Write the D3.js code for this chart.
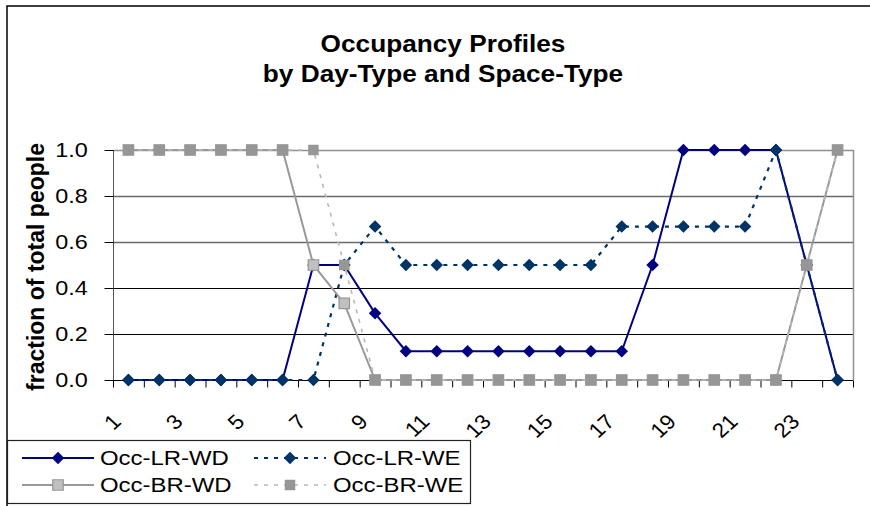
<!DOCTYPE html>
<html>
<head>
<meta charset="utf-8">
<script src="https://cdn.jsdelivr.net/npm/d3@7"></script>
<style>
  body { margin: 0; background: #fff; }
  svg { display: block; font-family: "Liberation Sans", Arial, sans-serif; }
</style>
</head>
<body>
<svg id="chart" width="870" height="506"></svg>
<script>
// hours of the day
var hours = [1, 2, 3, 4, 5, 6, 7, 8, 9, 10, 11, 12, 13, 14, 15, 16, 17, 18, 19, 20, 21, 22, 23, 24];
var hourLabels = ['1', '3', '5', '7', '9', '11', '13', '15', '17', '19', '21', '23'];
var yTicks = [0, 0.2, 0.4, 0.6, 0.8, 1.0];

// series values
var occLRWD = [0, 0, 0, 0, 0, 0, 0.5, 0.5, 0.29, 0.125, 0.125, 0.125, 0.125, 0.125, 0.125, 0.125, 0.125, 0.5, 1, 1, 1, 1, 0.5, 0];
var occLRWE = [0, 0, 0, 0, 0, 0, 0, 0.5, 0.667, 0.5, 0.5, 0.5, 0.5, 0.5, 0.5, 0.5, 0.667, 0.667, 0.667, 0.667, 0.667, 1, 0.5, 0];
var occBRWD = [1, 1, 1, 1, 1, 1, 0.5, 0.333, 0, 0, 0, 0, 0, 0, 0, 0, 0, 0, 0, 0, 0, 0, 0.5, 1];
var occBRWE = [1, 1, 1, 1, 1, 1, 1, 0.5, 0, 0, 0, 0, 0, 0, 0, 0, 0, 0, 0, 0, 0, 0, 0.5, 1];

var series = [
  { name: 'Occ-LR-WD', values: occLRWD, line: '#000080', width: 2, dash: null, shape: 'diamond', fill: '#000080', stroke: 'none' },
  { name: 'Occ-LR-WE', values: occLRWE, line: '#003366', width: 2.2, dash: '4,6', shape: 'diamond', fill: '#003366', stroke: 'none' },
  { name: 'Occ-BR-WD', values: occBRWD, line: '#999999', width: 2, dash: null, shape: 'square', fill: '#c0c0c0', stroke: '#969696' },
  { name: 'Occ-BR-WE', values: occBRWE, line: '#b8b8b8', width: 1.6, dash: '4,6', shape: 'square', fill: '#969696', stroke: 'none' }
];

(function() {
  var svg = d3.select('#chart');
  var plotLeft = 113, plotRight = 853, plotTop = 150, plotBottom = 380;

  var x = d3.scaleBand().domain(hours).range([plotLeft, plotRight]);
  var xEdge = d3.scaleLinear().domain([0, 24]).range([plotLeft, plotRight]);
  var y = d3.scaleLinear().domain([0, 1]).range([plotBottom, plotTop]);
  var cx = function(h) { return x(h) + x.bandwidth() / 2; };

  // outer chart border
  svg.append('rect')
    .attr('x', 7).attr('y', 6).attr('width', 900).attr('height', 560)
    .attr('fill', 'none').attr('stroke', '#000').attr('stroke-width', 1.5);

  // title
  var title = svg.append('g').attr('font-weight', 'bold').attr('font-size', 23);
  [['Occupancy Profiles', 52], ['by Day-Type and Space-Type', 82]].forEach(function(t) {
    title.append('text')
      .attr('transform', 'translate(443,' + t[1] + ') scale(1.14,1)')
      .attr('text-anchor', 'middle')
      .text(t[0]);
  });

  // gridlines
  svg.append('g').selectAll('line')
    .data(yTicks.filter(function(d) { return d > 0 && d < 1; }))
    .join('line')
    .attr('x1', plotLeft).attr('x2', plotRight)
    .attr('y1', function(d) { return Math.round(y(d)) + 0.5; })
    .attr('y2', function(d) { return Math.round(y(d)) + 0.5; })
    .attr('stroke', function(d) { return d > 0.5 ? '#6a6a6a' : '#000'; })
    .attr('stroke-width', function(d) { return d > 0.5 ? 1.6 : 1; });

  // plot area border (top and right)
  svg.append('path')
    .attr('d', 'M' + plotLeft + ',' + (plotTop + 0.5) + 'H' + (plotRight + 0.5) + 'V' + plotBottom)
    .attr('fill', 'none').attr('stroke', '#909090').attr('stroke-width', 1.5);

  // y axis
  var yAxis = svg.append('g')
    .attr('transform', 'translate(' + (plotLeft + 0.5) + ',0)')
    .call(d3.axisLeft(y).tickValues(yTicks).tickFormat(d3.format('.1f')).tickSize(9).tickPadding(10));
  yAxis.select('.domain').attr('stroke', '#555').attr('d', 'M0,' + plotTop + 'V' + (plotBottom + 7));
  yAxis.selectAll('.tick line').attr('stroke', '#000');
  yAxis.selectAll('.tick text')
    .attr('font-size', 19.5).attr('font-family', '"Liberation Sans", Arial, sans-serif')
    .attr('fill', '#000')
    .attr('transform', 'translate(-3,0) scale(1.2,1)');

  // x axis with ticks at band edges
  var xAxis = svg.append('g')
    .attr('transform', 'translate(0,' + (plotBottom + 0.5) + ')')
    .call(d3.axisBottom(xEdge).tickValues(d3.range(0, 25)).tickFormat('').tickSize(7));
  xAxis.select('.domain').attr('stroke', '#000').attr('d', 'M' + plotLeft + ',0H' + plotRight);
  xAxis.selectAll('.tick line').attr('stroke', '#000');

  svg.append('g').selectAll('text')
    .data(hourLabels)
    .join('text')
    .attr('transform', function(d) { return 'translate(' + (cx(+d) - 6) + ',423) scale(1.1,1) rotate(-45)'; })
    .attr('text-anchor', 'end')
    .attr('font-size', 20.5)
    .text(function(d) { return d; });

  // y axis title
  svg.append('text')
    .attr('transform', 'translate(44,267) rotate(-90)')
    .attr('text-anchor', 'middle')
    .attr('font-size', 23).attr('font-weight', 'bold')
    .text('fraction of total people');

  // series
  var diamond = d3.symbol(d3.symbolSquare, 78);
  var square = d3.symbol(d3.symbolSquare, 110);

  function marker(sel, s) {
    sel.attr('d', s.shape === 'diamond' ? diamond() : square())
      .attr('fill', s.fill)
      .attr('stroke', s.stroke)
      .attr('stroke-width', 1.2);
  }

  var line = d3.line()
    .x(function(d) { return cx(d.h); })
    .y(function(d) { return y(d.v); });

  series.forEach(function(s) {
    var pts = s.values.map(function(v, i) { return { h: hours[i], v: v }; });
    var g = svg.append('g');
    g.append('path')
      .attr('d', line(pts))
      .attr('fill', 'none')
      .attr('stroke', s.line)
      .attr('stroke-width', s.width)
      .attr('stroke-dasharray', s.dash);
    g.selectAll('path.m')
      .data(pts)
      .join('path')
      .classed('m', true)
      .attr('transform', function(d) {
        return 'translate(' + cx(d.h) + ',' + y(d.v) + ')' + (s.shape === 'diamond' ? ' rotate(45)' : '');
      })
      .call(marker, s);
  });

  // legend
  var legend = svg.append('g');
  legend.append('rect')
    .attr('x', 7.5).attr('y', 440.5).attr('width', 463).attr('height', 63)
    .attr('fill', '#fff').attr('stroke', '#222').attr('stroke-width', 1.2);

  var legendPos = [[22, 458], [254, 458], [22, 485], [254, 485]];
  series.forEach(function(s, i) {
    var p = legendPos[i];
    var g = legend.append('g').attr('transform', 'translate(' + p[0] + ',' + p[1] + ')');
    g.append('line')
      .attr('x1', 0).attr('x2', 72)
      .attr('stroke', s.line)
      .attr('stroke-width', s.width)
      .attr('stroke-dasharray', s.dash);
    g.append('path')
      .attr('transform', 'translate(36,0)' + (s.shape === 'diamond' ? ' rotate(45)' : ''))
      .call(marker, s);
    g.append('text')
      .attr('transform', 'translate(' + (i % 2 ? 79 : 78) + ',7) scale(1.14,1)')
      .attr('font-size', 21)
      .text(s.name);
  });
})();
</script>
</body>
</html>
